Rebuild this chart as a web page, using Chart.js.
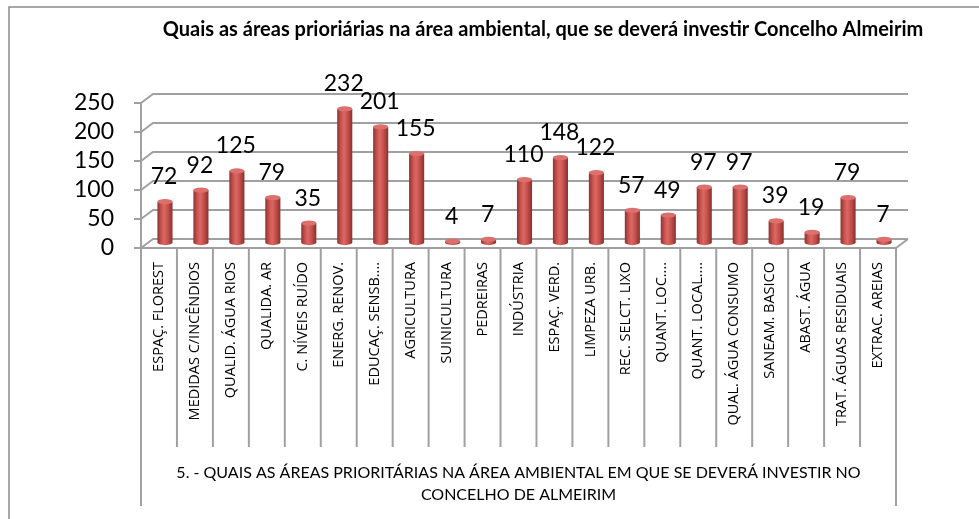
<!DOCTYPE html>
<html>
<head>
<meta charset="utf-8">
<script src="https://cdn.jsdelivr.net/npm/chart.js@4.4.1/dist/chart.umd.min.js"></script>
<style>
  body { margin: 0; background: #fff; }
</style>
</head>
<body>
<canvas id="myChart" width="979" height="519"></canvas>
<script>
const chartTitle = 'Quais as áreas prioriárias na área ambiental, que se deverá investir Concelho Almeirim';
const groupLabel = [
    '5. - QUAIS AS ÁREAS PRIORITÁRIAS NA ÁREA AMBIENTAL EM QUE SE DEVERÁ INVESTIR NO',
    'CONCELHO DE ALMEIRIM'
];
const categories = [
    'ESPAÇ. FLOREST', 'MEDIDAS C/INCÊNDIOS', 'QUALID. ÁGUA RIOS', 'QUALIDA. AR',
    'C. NÍVEIS RUÍDO', 'ENERG. RENOV.', 'EDUCAÇ. SENSB....', 'AGRICULTURA',
    'SUINICULTURA', 'PEDREIRAS', 'INDÚSTRIA', 'ESPAÇ. VERD.', 'LIMPEZA URB.',
    'REC. SELCT. LIXO', 'QUANT. LOC....', 'QUANT. LOCAL....', 'QUAL. ÁGUA CONSUMO',
    'SANEAM. BASICO', 'ABAST. ÁGUA', 'TRAT. ÁGUAS RESIDUAIS', 'EXTRAC. AREIAS'
];
const values = [72, 92, 125, 79, 35, 232, 201, 155, 4, 7, 110, 148, 122, 57, 49, 97, 97, 39, 19, 79, 7];
const yTicks = [0, 50, 100, 150, 200, 250];

// depth of the fake 3D box (back wall offset)
const DX = 12, DY = -9;
const GRID = '#a0a0a0';
const NUM_FONT = '23px Lato';

const canvas = document.getElementById('myChart');

// back wall + side wall gridlines and the floor
const wallPlugin = {
    id: 'wall3d',
    beforeDatasetsDraw(chart) {
        const { ctx, chartArea: a, scales: { y } } = chart;
        ctx.save();
        ctx.strokeStyle = GRID;
        ctx.lineWidth = 2;
        yTicks.forEach(v => {
            const py = y.getPixelForValue(v);
            ctx.beginPath();
            ctx.moveTo(a.left, py);
            ctx.lineTo(a.left + DX, py + DY);
            ctx.lineTo(a.right + DX, py + DY);
            ctx.stroke();
        });
        const p0 = y.getPixelForValue(0);
        ctx.beginPath();
        ctx.moveTo(a.left, p0);
        ctx.lineTo(a.right, p0);
        ctx.lineTo(a.right + DX, p0 + DY);
        ctx.stroke();
        ctx.restore();
    }
};

// cylinders drawn over the (invisible) bar elements
const cylinderPlugin = {
    id: 'cylinders',
    afterDatasetsDraw(chart) {
        const ctx = chart.ctx;
        const meta = chart.getDatasetMeta(0);
        ctx.save();
        meta.data.forEach(bar => {
            const cx = bar.x + DX / 2;
            const r = bar.width / 2;
            const ry = r * 0.35;
            const top = bar.y + DY / 2;
            const bottom = bar.base + DY / 2;

            const g = ctx.createLinearGradient(cx - r, 0, cx + r, 0);
            g.addColorStop(0, '#8c322f');
            g.addColorStop(0.25, '#c9524e');
            g.addColorStop(0.45, '#dc6864');
            g.addColorStop(0.7, '#c24f4b');
            g.addColorStop(1, '#88302d');

            ctx.fillStyle = g;
            ctx.beginPath();
            ctx.moveTo(cx - r, top);
            ctx.lineTo(cx - r, bottom);
            ctx.ellipse(cx, bottom, r, ry, 0, Math.PI, 0, true);
            ctx.lineTo(cx + r, top);
            ctx.closePath();
            ctx.fill();

            ctx.fillStyle = '#db706c';
            ctx.beginPath();
            ctx.ellipse(cx, top, r, ry, 0, 0, Math.PI * 2);
            ctx.fill();
        });
        ctx.restore();
    }
};

// texts, category table and frame
const decorPlugin = {
    id: 'decor',
    afterDraw(chart) {
        const { ctx, chartArea: a, scales: { x, y } } = chart;
        const meta = chart.getDatasetMeta(0);
        ctx.save();

        // outer frame
        ctx.strokeStyle = '#8c8c8c';
        ctx.lineWidth = 1.5;
        ctx.beginPath();
        ctx.moveTo(9, 519);
        ctx.lineTo(9, 7);
        ctx.lineTo(979, 7);
        ctx.stroke();

        // title
        ctx.fillStyle = '#000';
        ctx.font = 'bold 20px Lato';
        ctx.textAlign = 'center';
        ctx.textBaseline = 'middle';
        ctx.fillText(chartTitle, 543, 30);

        // value labels
        ctx.font = NUM_FONT;
        meta.data.forEach((bar, i) => {
            ctx.fillText(String(values[i]), bar.x + DX / 2 - 1, bar.y + DY / 2 - 25);
        });

        // category table lines
        const p0 = y.getPixelForValue(0);
        const step = x.getPixelForValue(1) - x.getPixelForValue(0);
        ctx.strokeStyle = GRID;
        ctx.lineWidth = 2;
        for (let i = 0; i <= categories.length; i++) {
            const px = a.left + i * step;
            const outer = (i === 0 || i === categories.length);
            ctx.beginPath();
            ctx.moveTo(px, p0);
            ctx.lineTo(px, outer ? 506 : 447);
            ctx.stroke();
        }

        // rotated category labels
        ctx.font = '14.5px "Open Sans"';
        ctx.textAlign = 'right';
        ctx.textBaseline = 'middle';
        categories.forEach((c, i) => {
            const px = x.getPixelForValue(i);
            ctx.save();
            ctx.translate(px, 262);
            ctx.rotate(-Math.PI / 2);
            ctx.fillText(c, 0, 0);
            ctx.restore();
        });

        // group label below the table
        ctx.font = '16px Lato';
        ctx.textAlign = 'center';
        const mid = (a.left + a.right) / 2;
        ctx.fillText(groupLabel[0], mid, 473);
        ctx.fillText(groupLabel[1], mid, 495);

        ctx.restore();
    }
};

const myChart = new Chart(canvas, {
    type: 'bar',
    data: {
        labels: categories,
        datasets: [
            {
                label: 'Respostas',
                data: values,
                backgroundColor: 'rgba(0,0,0,0)',
                borderWidth: 0,
                categoryPercentage: 1,
                barPercentage: 0.42
            }
        ]
    },
    options: {
        responsive: false,
        animation: false,
        events: [],
        layout: {
            padding: { left: 10, right: 83, top: 103, bottom: 271 }
        },
        plugins: {
            legend: { display: false },
            tooltip: { enabled: false },
            title: { display: false }
        },
        scales: {
            x: {
                type: 'category',
                display: false
            },
            y: {
                type: 'linear',
                position: 'left',
                min: 0,
                max: 250,
                afterFit(scale) { scale.width = 131; },
                afterBuildTicks(scale) { scale.ticks = yTicks.map(v => ({ value: v })); },
                grid: {
                    drawOnChartArea: false,
                    drawTicks: true,
                    tickLength: 7,
                    color: GRID,
                    lineWidth: 2
                },
                border: { display: true, color: GRID, width: 2 },
                ticks: {
                    autoSkip: false,
                    padding: 20,
                    color: '#000',
                    font: { family: 'Lato', size: 23 }
                }
            }
        }
    },
    plugins: [wallPlugin, cylinderPlugin, decorPlugin]
});
</script>
</body>
</html>
